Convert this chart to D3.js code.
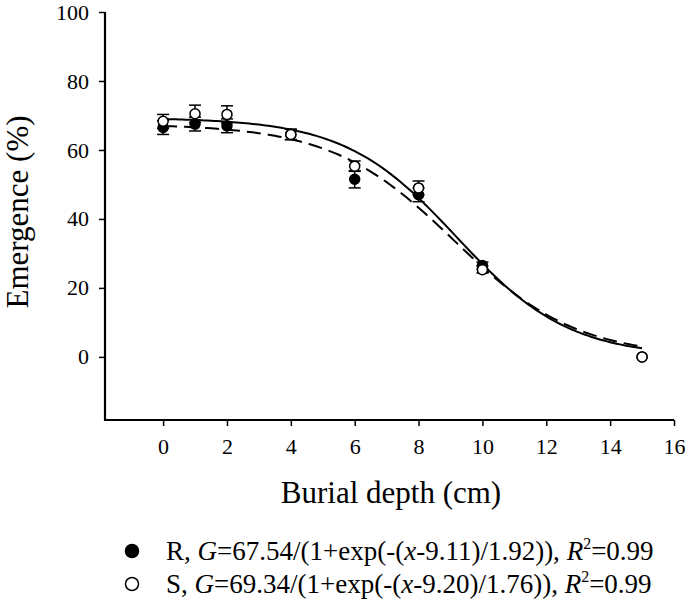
<!DOCTYPE html>
<html>
<head>
<meta charset="utf-8">
<script src="https://cdn.jsdelivr.net/npm/d3@7"></script>
<style>
  body { margin: 0; background: #fff; }
  svg, svg text { font-family: "Times New Roman", Times, "Liberation Serif", "DejaVu Serif", serif !important; }
</style>
</head>
<body>
<div id="chart"></div>
<script>
// burial depth (cm)
const depths = [0, 1, 2, 4, 6, 8, 10, 15];
// emergence (%) and error bars
const rValues = [66.5, 67.5, 67, 64.5, 51.5, 47, 26.5, 0];
const rErrors = [2, 2, 2, 1.5, 2.5, 2, 1, 0];
const sValues = [68.3, 70.5, 70.3, 64.5, 55.3, 49, 25.3, 0];
const sErrors = [2, 2.5, 2.5, 1.5, 1.5, 2, 1, 0];
// fitted sigmoid parameters [a, x0, b] from the legend
const rFit = [67.54, 9.11, 1.92];
const sFit = [69.34, 9.20, 1.76];
const xTicks = [0, 2, 4, 6, 8, 10, 12, 14, 16];
const yTicks = [0, 20, 40, 60, 80, 100];

const width = 685, height = 610;

const svg = d3.select('#chart').append('svg')
    .attr('width', width)
    .attr('height', height);

const x = d3.scaleLinear().domain([-1.82, 16]).range([105, 674]);
const y = d3.scaleLinear().domain([-18.3, 100]).range([420, 12]);

// axes
const xAxis = d3.axisBottom(x).tickValues(xTicks).tickSize(6).tickSizeOuter(0).tickPadding(12);
const yAxis = d3.axisLeft(y).tickValues(yTicks).tickSize(6).tickSizeOuter(0).tickPadding(10);

const gx = svg.append('g').attr('transform', 'translate(0,420)').call(xAxis);
const gy = svg.append('g').attr('transform', 'translate(105,0)').call(yAxis);

[gx, gy].forEach(g => {
    g.attr('font-family', null).attr('font-size', 22);
    g.select('.domain').attr('stroke', '#000').attr('stroke-width', 2.2);
    g.selectAll('.tick line').attr('stroke', '#000').attr('stroke-width', 1.5);
    g.selectAll('.tick text').attr('fill', '#000');
});
// extend axis lines to meet at the corner
gx.select('.domain').attr('d', 'M' + (x.range()[0] - 1) + ',0H' + x.range()[1]);
gy.select('.domain').attr('d', 'M0,' + y.range()[1] + 'V' + (y.range()[0] + 1));

svg.append('text')
    .attr('x', 391).attr('y', 503)
    .attr('text-anchor', 'middle')
    .attr('font-size', 31)
    .text('Burial depth (cm)');

svg.append('text')
    .attr('transform', 'translate(28,212) rotate(-90)')
    .attr('text-anchor', 'middle')
    .attr('font-size', 31)
    .text('Emergence (%)');

// fitted curves
const curveX = d3.range(0, 15.001, 0.1);
const fit = p => curveX.map(v => [v, p[0] / (1 + Math.exp((v - p[1]) / p[2]))]);
const line = d3.line().x(d => x(d[0])).y(d => y(d[1]));

svg.append('path')
    .datum(fit(rFit))
    .attr('d', line)
    .attr('fill', 'none')
    .attr('stroke', '#000')
    .attr('stroke-width', 2)
    .attr('stroke-dasharray', '14,7');

svg.append('path')
    .datum(fit(sFit))
    .attr('d', line)
    .attr('fill', 'none')
    .attr('stroke', '#000')
    .attr('stroke-width', 2);

// points with error bars
function drawSeries(vals, errs, fill) {
    const g = svg.append('g');
    const pts = depths.map((d, i) => ({x: d, y: vals[i], e: errs[i]}));
    const eb = g.selectAll('.eb').data(pts.filter(p => p.e > 0)).enter().append('g');
    eb.append('line')
        .attr('x1', d => x(d.x)).attr('x2', d => x(d.x))
        .attr('y1', d => y(d.y + d.e)).attr('y2', d => y(d.y - d.e))
        .attr('stroke', '#000').attr('stroke-width', 1.5);
    [1, -1].forEach(s => {
        eb.append('line')
            .attr('x1', d => x(d.x) - 6).attr('x2', d => x(d.x) + 6)
            .attr('y1', d => y(d.y + s * d.e)).attr('y2', d => y(d.y + s * d.e))
            .attr('stroke', '#000').attr('stroke-width', 1.5);
    });
    g.selectAll('circle').data(pts).enter().append('circle')
        .attr('cx', d => x(d.x)).attr('cy', d => y(d.y))
        .attr('r', 5)
        .attr('fill', fill)
        .attr('stroke', '#000')
        .attr('stroke-width', 1.5);
}
drawSeries(rValues, rErrors, '#000');
drawSeries(sValues, sErrors, '#fff');

// legend
const legend = [
    {fill: '#000', name: 'R', p: rFit, y: 551},
    {fill: '#fff', name: 'S', p: sFit, y: 584}
];
legend.forEach(l => {
    svg.append('circle')
        .attr('cx', 132).attr('cy', l.y)
        .attr('r', 6.5)
        .attr('fill', l.fill)
        .attr('stroke', '#000')
        .attr('stroke-width', 1.5);
    const t = svg.append('text')
        .attr('x', 166).attr('y', l.y + 9)
        .attr('font-size', 27);
    t.append('tspan').text(l.name + ', ');
    t.append('tspan').attr('font-style', 'italic').text('G');
    t.append('tspan').text('=' + l.p[0].toFixed(2) + '/(1+exp(-(');
    t.append('tspan').attr('font-style', 'italic').text('x');
    t.append('tspan').text('-' + l.p[1].toFixed(2) + ')/' + l.p[2].toFixed(2) + ')), ');
    t.append('tspan').attr('font-style', 'italic').text('R');
    t.append('tspan').attr('dy', -11).attr('font-size', 16).text('2');
    t.append('tspan').attr('dy', 11).text('=0.99');
});
</script>
</body>
</html>
